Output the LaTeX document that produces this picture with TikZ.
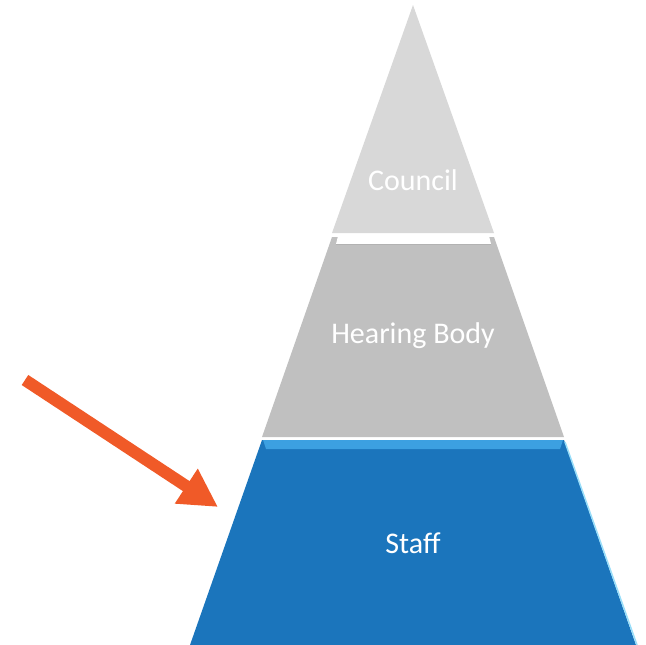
\documentclass[tikz,border=0pt]{standalone}
\usepackage{fontspec}
\setmainfont{Carlito}
\usetikzlibrary{arrows.meta, positioning, calc}
\definecolor{staffblue}{RGB}{27,117,188}
\definecolor{stafflight}{RGB}{60,160,225}
\definecolor{hearinggray}{RGB}{192,192,192}
\definecolor{councilgray}{RGB}{216,216,216}
\definecolor{pointer}{RGB}{240,90,40}

\begin{document}
\begin{tikzpicture}[x=1pt, y=-1pt,
  level/.style={text=white, font=\fontsize{30}{36}\selectfont}]
\useasboundingbox (0,0) rectangle (646,645);

% Pyramid levels, top to bottom
\fill[councilgray] (413,5) -- (494,233) -- (332,233) -- cycle;
\fill[hearinggray] (332,237) -- (494,237) -- (564,437) -- (262,437) -- cycle;
\fill[staffblue] (262,440) -- (564,440) -- (636,645) -- (190,645) -- cycle;

% bevel on the upper edges
\fill[white] (338,236) -- (489,236) -- (491,244) -- (336,244) -- cycle;
\draw[gray!60, line width=0.8pt] (336,244) -- (491,244);
\fill[stafflight] (263,440) -- (563,440) -- (560,449) -- (266,449) -- cycle;
\draw[cyan!40, line width=1.5pt] (565,442) -- (637,645);

% Level names
\node[level] (council) at (413,180) {Council};
\node[level] (hearing) at (413,336) {Hearing Body};
\node[level] (staff) at (413,543) {Staff};

% Pointer to the staff level
\coordinate (tail) at (25,380);
\coordinate (tip) at (218,507);
\draw[pointer, line width=12pt, -{Triangle[width=39pt, length=38pt]}] (tail) -- (tip);
\end{tikzpicture}
\end{document}
